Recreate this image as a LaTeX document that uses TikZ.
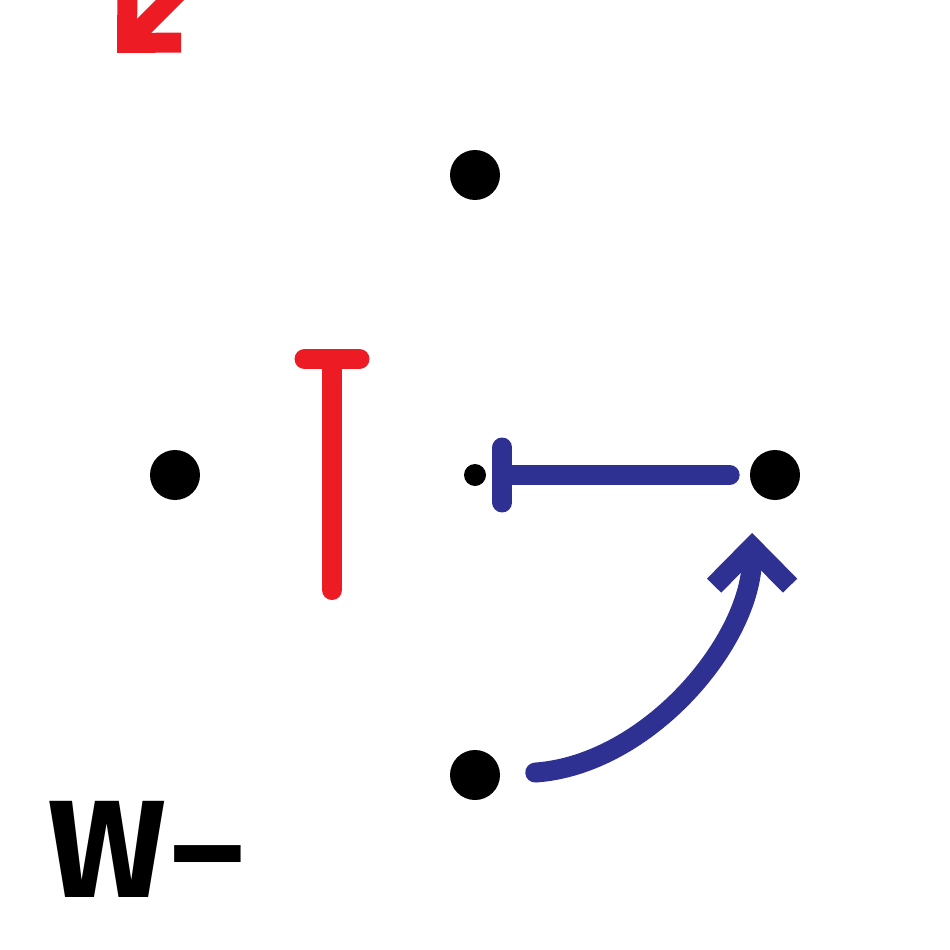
\documentclass[tikz,border=0pt]{standalone}
\usepackage{fontspec}
\setmainfont{Fira Sans}
\usetikzlibrary{arrows.meta}

\definecolor{actred}{HTML}{ED1C24}
\definecolor{actblue}{HTML}{2E3192}

\tikzset{
  dot/.style={circle,fill=black,inner sep=0pt,minimum size=1cm},
  smalldot/.style={circle,fill=black,inner sep=0pt,minimum size=0.44cm},
  thickline/.style={line width=0.4cm,line cap=round},
  acttip/.style={-{Straight Barb[length=0.77cm,width=1.52cm]}},
  inhtip/.style={-{Bar[width=1.1cm,round]}},
}

\begin{document}
\begin{tikzpicture}[x=0.02cm,y=-0.02cm]

\useasboundingbox (0,0) rectangle (950,950);
\clip (0,0) rectangle (950,950);

% Points
\node[dot] (N) at (475,175) {};
\node[dot] (W) at (175,475) {};
\node[smalldot] (C) at (475,475) {};
\node[dot] (E) at (775,475) {};
\node[dot] (S) at (475,775) {};

% Free ends
\coordinate (R0) at (260,-90);
\coordinate (R1) at (117,53);
\coordinate (T0) at (332,590);
\coordinate (T1) at (332,349);

% Red arrows
\draw[thickline,actred,acttip] (R0) -- (R1);
\draw[thickline,actred,inhtip] (T0) -- (T1);

% Blue arrows
\draw[thickline,actblue,inhtip,shorten <=0.4cm,shorten >=0.12cm] (E) -- (C);
\draw[thickline,actblue,acttip,shorten <=0.7cm,shorten >=0.8cm] (S.east) to[out=4,in=-90] ([xshift=-0.1cm]E.south west);

% Label
\node[anchor=base west,inner sep=0pt] (L) at (48,897) {\fontsize{79}{80}\selectfont\bfseries W\scalebox{1.5}[1]{-}};

\end{tikzpicture}
\end{document}
